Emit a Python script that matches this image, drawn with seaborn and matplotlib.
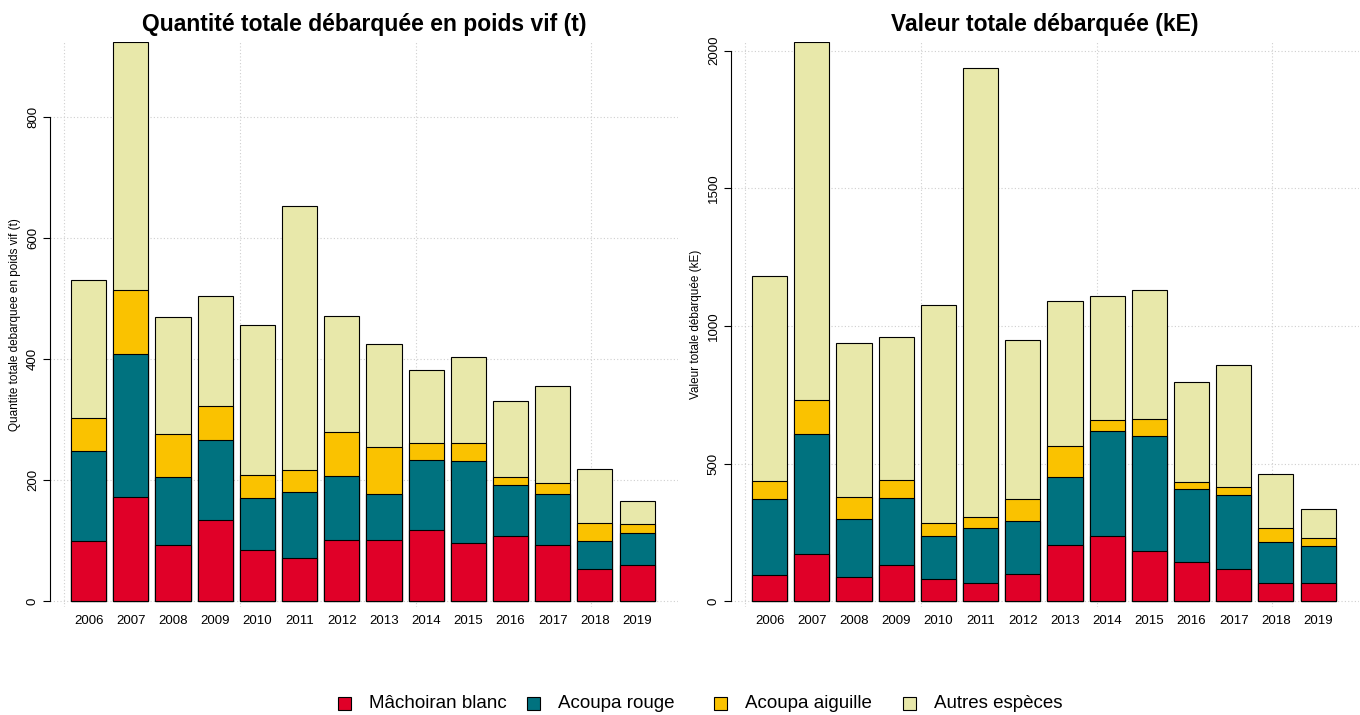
import seaborn as sns
import matplotlib.pyplot as plt
from matplotlib.patches import Rectangle

years = [str(y) for y in range(2006, 2020)]
species = ["Mâchoiran blanc", "Acoupa rouge", "Acoupa aiguille", "Autres espèces"]
colors = ["#E00028", "#00727F", "#FAC200", "#E8E8AA"]

# quantite debarquee (t)
q_machoiran = [99, 172, 93, 135, 84, 71, 102, 101, 117, 97, 108, 93, 54, 60]
q_acoupa_rouge = [149, 237, 113, 132, 86, 110, 105, 76, 116, 135, 84, 85, 46, 53]
q_acoupa_aiguille = [55, 105, 70, 55, 39, 35, 73, 77, 28, 29, 14, 18, 29, 14]
q_autres = [228, 409, 193, 182, 247, 437, 191, 171, 121, 143, 125, 160, 90, 38]

# valeur debarquee (kE)
v_machoiran = [95, 171, 90, 131, 80, 66, 98, 204, 237, 182, 143, 118, 66, 66]
v_acoupa_rouge = [276, 435, 210, 246, 157, 200, 193, 249, 381, 419, 265, 269, 149, 134]
v_acoupa_aiguille = [65, 125, 80, 63, 47, 42, 80, 111, 41, 63, 24, 29, 52, 31]
v_autres = [745, 1300, 557, 520, 791, 1628, 578, 527, 451, 465, 365, 444, 194, 103]

sns.set_style("white")
plt.rcParams["font.family"] = ["Liberation Sans", "DejaVu Sans"]
for key in ["text.color", "axes.labelcolor", "xtick.color", "ytick.color", "axes.edgecolor"]:
    plt.rcParams[key] = "black"

fig = plt.figure(figsize=(13.6, 7.15), dpi=100)
ax1 = fig.add_axes([50 / 1360, 108 / 715, 628 / 1360, 565 / 715])
ax2 = fig.add_axes([731 / 1360, 108 / 715, 628 / 1360, 565 / 715])


def stacked(ax, series, title, ylabel, yticks):
    # cumulative heights, drawn from the top segment down
    cum = []
    run = [0] * len(years)
    for s in series:
        run = [a + b for a, b in zip(run, s)]
        cum.append(run)
    for k in reversed(range(len(series))):
        sns.barplot(x=years, y=cum[k], color=colors[k], saturation=1, width=1 / 1.2,
                    edgecolor="black", linewidth=0.8, ax=ax)
    top = max(cum[-1])
    ax.set_ylim(-0.01 * top, top)
    ax.set_xlim(-1.1 / 1.2, 16.764 / 1.2)
    ax.set_axisbelow(True)
    ax.set_yticks(yticks)
    ax.yaxis.grid(True, linestyle=(0, (1, 2)), color="#cfcfcf", linewidth=0.8)
    for g in [0, 5, 10, 15]:
        ax.axvline((g - 0.7) / 1.2, linestyle=(0, (1, 2)), color="#cfcfcf", linewidth=0.8, zorder=0)
    for side in ["top", "right", "bottom"]:
        ax.spines[side].set_visible(False)
    ax.spines["left"].set_bounds(yticks[0], yticks[-1])
    ax.spines["left"].set_linewidth(0.8)
    ax.tick_params(axis="y", length=5, width=0.8, labelsize=9.5, left=True, pad=3)
    plt.setp(ax.get_yticklabels(), rotation=90, va="center")
    ax.tick_params(axis="x", length=0, labelsize=9.5, pad=6)
    ax.set_xlabel("")
    ax.set_ylabel(ylabel, fontsize=8.5, labelpad=4)
    ax.set_title(title, fontsize=16.5, fontweight="bold", pad=8)


stacked(ax1, [q_machoiran, q_acoupa_rouge, q_acoupa_aiguille, q_autres],
        "Quantité totale débarquée en poids vif (t)",
        "Quantite totale debarquee en poids vif (t)", [0, 200, 400, 600, 800])
stacked(ax2, [v_machoiran, v_acoupa_rouge, v_acoupa_aiguille, v_autres],
        "Valeur totale débarquée (kE)",
        "Valeur totale débarquée (kE)", [0, 500, 1000, 1500, 2000])

# legend row at the bottom, spaced like the original
legend_x = [338, 527, 714, 903]
for x, c, lab in zip(legend_x, colors, species):
    fig.patches.append(Rectangle((x / 1360, (715 - 710) / 715), 13 / 1360, 13 / 715,
                                 transform=fig.transFigure, facecolor=c,
                                 edgecolor="black", linewidth=0.8))
    fig.text((x + 31) / 1360, (715 - 703.5) / 715, lab, fontsize=13.5, va="center", ha="left")

plt.savefig("out.png", dpi=100)
